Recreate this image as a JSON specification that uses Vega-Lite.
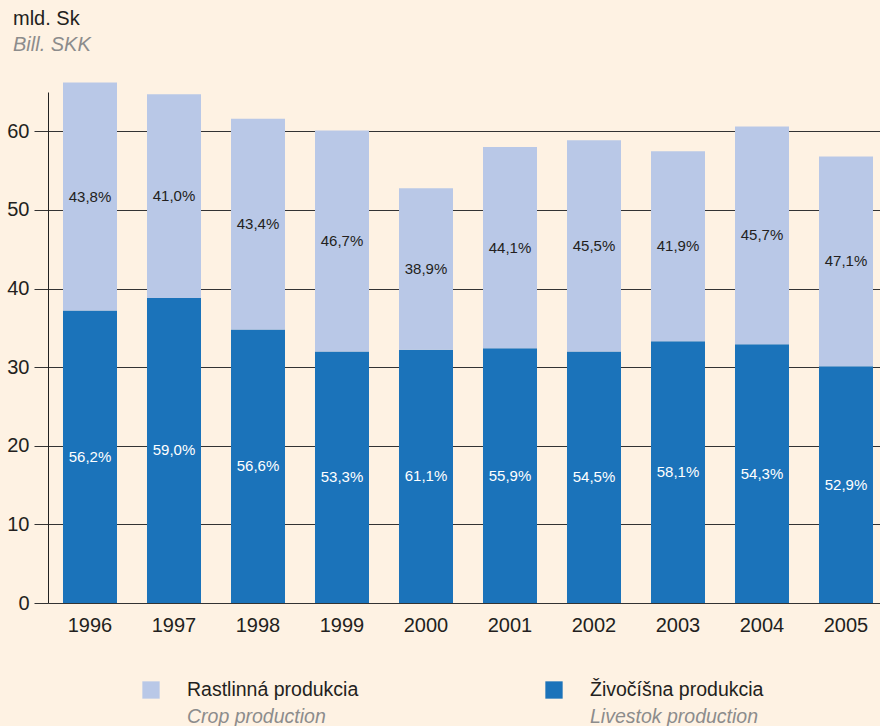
{
  "$schema": "https://vega.github.io/schema/vega-lite/v6.json",
  "padding": {"left": 6, "top": 8, "right": 0, "bottom": 0},
  "background": "#FEF2E3",
  "config": {"view": {"stroke": null}, "font": "Liberation Sans"},
  "title": {
    "text": "mld. Sk",
    "subtitle": "Bill. SKK",
    "anchor": "start",
    "frame": "group",
    "dx": -35,
    "offset": 28,
    "fontSize": 20,
    "fontWeight": "normal",
    "color": "#231F20",
    "subtitleFontSize": 20,
    "subtitleFontStyle": "italic",
    "subtitleColor": "#8C8C8C",
    "subtitlePadding": 6
  },
  "datasets": {
    "bars": [
      {"year": "1996", "series": "Živočíšna produkcia", "value": 37.2, "pct": "56,2%"},
      {"year": "1996", "series": "Rastlinná produkcia", "value": 29.0, "pct": "43,8%"},
      {"year": "1997", "series": "Živočíšna produkcia", "value": 38.8, "pct": "59,0%"},
      {"year": "1997", "series": "Rastlinná produkcia", "value": 25.9, "pct": "41,0%"},
      {"year": "1998", "series": "Živočíšna produkcia", "value": 34.8, "pct": "56,6%"},
      {"year": "1998", "series": "Rastlinná produkcia", "value": 26.8, "pct": "43,4%"},
      {"year": "1999", "series": "Živočíšna produkcia", "value": 32.0, "pct": "53,3%"},
      {"year": "1999", "series": "Rastlinná produkcia", "value": 28.1, "pct": "46,7%"},
      {"year": "2000", "series": "Živočíšna produkcia", "value": 32.2, "pct": "61,1%"},
      {"year": "2000", "series": "Rastlinná produkcia", "value": 20.55, "pct": "38,9%"},
      {"year": "2001", "series": "Živočíšna produkcia", "value": 32.4, "pct": "55,9%"},
      {"year": "2001", "series": "Rastlinná produkcia", "value": 25.6, "pct": "44,1%"},
      {"year": "2002", "series": "Živočíšna produkcia", "value": 32.0, "pct": "54,5%"},
      {"year": "2002", "series": "Rastlinná produkcia", "value": 26.85, "pct": "45,5%"},
      {"year": "2003", "series": "Živočíšna produkcia", "value": 33.3, "pct": "58,1%"},
      {"year": "2003", "series": "Rastlinná produkcia", "value": 24.15, "pct": "41,9%"},
      {"year": "2004", "series": "Živočíšna produkcia", "value": 32.9, "pct": "54,3%"},
      {"year": "2004", "series": "Rastlinná produkcia", "value": 27.7, "pct": "45,7%"},
      {"year": "2005", "series": "Živočíšna produkcia", "value": 30.1, "pct": "52,9%"},
      {"year": "2005", "series": "Rastlinná produkcia", "value": 26.7, "pct": "47,1%"}
    ],
    "legend": [
      {"series": "Rastlinná produkcia", "en": "Crop production"},
      {"series": "Živočíšna produkcia", "en": "Livestok production"}
    ]
  },
  "spacing": 45,
  "vconcat": [
    {
      "width": 833,
      "height": 511,
      "data": {"name": "bars"},
      "transform": [
        {"stack": "value", "groupby": ["year"], "sort": [{"field": "series", "order": "descending"}], "as": ["v0", "v1"]},
        {"calculate": "(datum.v0 + datum.v1) / 2", "as": "mid"}
      ],
      "encoding": {
        "x": {
          "field": "year",
          "type": "ordinal",
          "scale": {"paddingInner": 0.35714, "paddingOuter": 0.136905, "align": 0.652},
          "axis": {
            "title": null,
            "domain": false,
            "ticks": false,
            "tickSize": 0,
            "labelAngle": 0,
            "labelFontSize": 20,
            "labelPadding": 12,
            "labelColor": "#231F20"
          }
        }
      },
      "layer": [
        {
          "mark": {"type": "bar"},
          "encoding": {
            "y": {
              "field": "v0",
              "type": "quantitative",
              "scale": {"domain": [0, 65], "nice": false, "zero": true},
              "axis": {
                "title": null,
                "values": [0, 5, 10, 15, 20, 25, 30, 35, 40, 45, 50, 55, 60, 65],
                "labelExpr": "datum.value % 10 == 0 && datum.value < 65 ? datum.label : ''",
                "grid": true,
                "gridColor": "#333333",
                "gridOpacity": 1,
                "gridWidth": 1,
                "tickColor": "#333333",
                "tickSize": 14,
                "domainColor": "#222222",
                "labelFontSize": 20,
                "labelColor": "#231F20",
                "labelPadding": 5
              }
            },
            "y2": {"field": "v1"},
            "color": {
              "field": "series",
              "type": "nominal",
              "scale": {"domain": ["Rastlinná produkcia", "Živočíšna produkcia"], "range": ["#B9C8E7", "#1B73BA"]},
              "legend": null
            }
          }
        },
        {
          "mark": {"type": "text", "fontSize": 15, "baseline": "middle"},
          "encoding": {
            "y": {"field": "mid", "type": "quantitative"},
            "text": {"field": "pct"},
            "color": {
              "condition": {"test": "datum.series == 'Živočíšna produkcia'", "value": "#FFFFFF"},
              "value": "#231F20"
            }
          }
        }
      ]
    },
    {
      "width": 833,
      "height": 20,
      "data": {"name": "legend"},
      "encoding": {
        "x": {
          "field": "series",
          "type": "nominal",
          "scale": {"type": "point", "padding": 0, "domain": ["Rastlinná produkcia", "Živočíšna produkcia"], "range": [103, 506]},
          "axis": null
        }
      },
      "layer": [
        {
          "mark": {"type": "point", "shape": "square", "filled": true, "size": 300, "opacity": 1},
          "encoding": {
            "color": {"field": "series", "type": "nominal", "legend": null}
          }
        },
        {
          "mark": {"type": "text", "align": "left", "baseline": "middle", "dx": 36, "fontSize": 19.5, "color": "#231F20"},
          "encoding": {"text": {"field": "series"}}
        },
        {
          "mark": {"type": "text", "align": "left", "baseline": "middle", "dx": 36, "dy": 27, "fontSize": 19.5, "fontStyle": "italic", "color": "#8C8C8C"},
          "encoding": {"text": {"field": "en"}}
        }
      ]
    }
  ]
}
